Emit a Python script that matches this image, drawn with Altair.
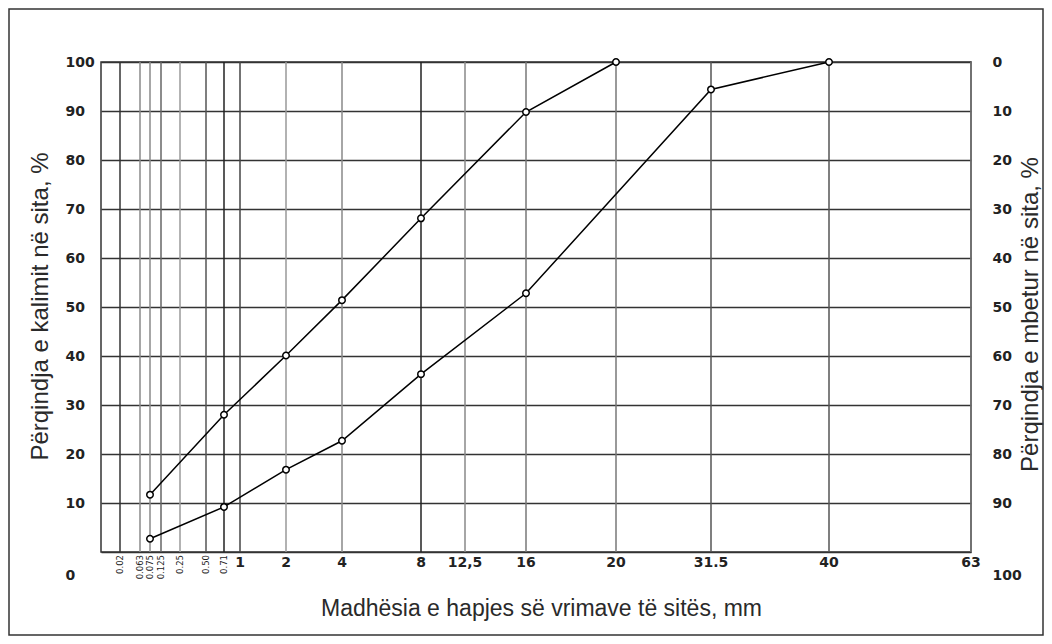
import altair as alt
import pandas as pd

# ---- data ----
sieve_sizes = [0.02, 0.063, 0.075, 0.125, 0.25, 0.5, 0.71, 1, 2, 4, 8, 12.5, 16, 20, 31.5, 40, 63]
grid_shade = ["#333333", "#8a8a8a", "#8a8a8a", "#666666", "#9a9a9a", "#555555", "#222222", "#444444",
              "#999999", "#888888", "#222222", "#888888", "#777777", "#777777", "#555555", "#555555", "#777777"]

small_vals = [0.02, 0.063, 0.075, 0.125, 0.25, 0.5, 0.71]
small_labels = ["0.02", "0.063", "0.075", "0.125", "0.25", "0.50", "0.71"]
big_vals = [1, 2, 4, 8, 12.5, 16, 20, 31.5, 40, 63]
big_labels = ["1", "2", "4", "8", "12,5", "16", "20", "31.5", "40", "63"]

curve_a_size = [0.075, 0.71, 2, 4, 8, 16, 20]
curve_a_pass = [11.7, 28.0, 40.1, 51.4, 68.1, 89.8, 100]
curve_b_size = [0.075, 0.71, 2, 4, 8, 16, 31.5, 40]
curve_b_pass = [2.7, 9.2, 16.8, 22.7, 36.3, 52.8, 94.4, 100]

left_ticks = list(range(0, 101, 10))
right_ticks = list(range(0, 101, 10))

# ---- layout ----
W, H = 870, 490
# non-uniform sieve axis: piecewise-linear scale
x_domain = [0] + sieve_sizes
x_range = [0, 19, 39, 49, 60, 79, 105, 123, 139, 185, 241, 320, 364, 425, 515, 610, 728, 870]

curves = pd.DataFrame({
    "size": curve_a_size + curve_b_size,
    "pass": curve_a_pass + curve_b_pass,
    "curve": ["A"] * len(curve_a_size) + ["B"] * len(curve_b_size),
})
grid_df = pd.DataFrame({"size": sieve_sizes, "shade": grid_shade})
small_df = pd.DataFrame({"size": small_vals, "label": small_labels})
big_df = pd.DataFrame({"size": big_vals, "label": big_labels})
right_df = pd.DataFrame({"ret": right_ticks})
frame_df = pd.DataFrame({"k": [0]})

LABEL_COLOR = "#222222"
TITLE_COLOR = "#2a2a2a"

xscale = alt.Scale(domain=x_domain, range=x_range, nice=False, zero=False)
x_axis = alt.Axis(labels=False, ticks=False, grid=False, domain=False,
                  title="Madhësia e hapjes së vrimave të sitës, mm",
                  titleFont="Liberation Sans", titleFontSize=23, titleFontWeight="normal",
                  titleColor=TITLE_COLOR, titleX=440, titleY=56, titleAlign="center",
                  titleBaseline="middle")
x_enc = alt.X("size:Q", scale=xscale, axis=x_axis)

yscale = alt.Scale(domain=[0, 100], nice=False, zero=False)
left_axis = alt.Axis(values=left_ticks, grid=True, gridColor="#333333", gridWidth=1.4,
                     ticks=False, tickSize=0, domain=False, labelAlign="left", labelPadding=36,
                     labelFont="DejaVu Sans", labelFontSize=14, labelFontWeight="bold",
                     labelColor=LABEL_COLOR,
                     labelFlush=False, labelOverlap=False,
                     labelOffset={"condition": {"test": "datum.value == 0", "value": 23}, "value": 0},
                     title="Përqindja e kalimit në sita, %",
                     titleFont="Liberation Sans", titleFontSize=24, titleFontWeight="normal",
                     titleColor=TITLE_COLOR, titleAngle=270, titleX=-61, titleY=244,
                     titleAlign="center", titleBaseline="middle")
y_enc = alt.Y("pass:Q", scale=yscale, axis=left_axis)

grid_rules = alt.Chart(grid_df).mark_rule(strokeWidth=1.5).encode(
    x=x_enc,
    y=alt.value(0),
    y2=alt.value(H),
    color=alt.Color("shade:N", scale=None),
)

lines = alt.Chart(curves).mark_line(color="black", strokeWidth=1.5).encode(
    x=x_enc,
    y=y_enc,
    detail="curve:N",
)
points = alt.Chart(curves).mark_point(shape="circle", filled=True, fill="white", stroke="black",
                                      strokeWidth=1.5, size=42, opacity=1).encode(
    x=x_enc,
    y=y_enc,
)

small_text = alt.Chart(small_df).mark_text(angle=270, align="right", baseline="middle",
                                           font="DejaVu Sans", fontSize=8.5, color="#222222").encode(
    x=x_enc, y=alt.value(H + 3), text="label:N")
big_text = alt.Chart(big_df).mark_text(align="center", baseline="middle",
                                       font="DejaVu Sans", fontSize=14, fontWeight="bold",
                                       color=LABEL_COLOR).encode(
    x=x_enc, y=alt.value(H + 11), text="label:N")

frame = alt.Chart(frame_df).mark_rect(fill=None, stroke="#333333", strokeWidth=1.5).encode(
    x=alt.value(-92), x2=alt.value(942), y=alt.value(-53), y2=alt.value(573))

main = alt.layer(grid_rules, lines, points, small_text, big_text, frame)

right_axis_layer = alt.Chart(right_df).mark_point(opacity=0).encode(
    y=alt.Y("ret:Q", scale=alt.Scale(domain=[0, 100], reverse=True, nice=False, zero=False),
            axis=alt.Axis(orient="right", values=right_ticks, grid=False, ticks=False, tickSize=0,
                          domain=False, labelAlign="left", labelPadding=21,
                          labelFont="DejaVu Sans", labelFontSize=14, labelFontWeight="bold",
                          labelColor=LABEL_COLOR,
                          labelFlush=False, labelOverlap=False,
                          labelOffset={"condition": {"test": "datum.value == 100", "value": 23}, "value": 0},
                          title="Përqindja e mbetur në sita, %",
                          titleFont="Liberation Sans", titleFontSize=24, titleFontWeight="normal",
                          titleColor=TITLE_COLOR, titleAngle=270, titleX=59, titleY=252,
                          titleAlign="center", titleBaseline="middle")),
)

chart = alt.layer(main, right_axis_layer).resolve_scale(y="independent").properties(
    width=W, height=H,
    autosize=alt.AutoSizeParams(type="none"),
    padding={"left": 93, "top": 54, "right": 73, "bottom": 84},
    background="white",
).configure_view(stroke="#333333", strokeWidth=1.5)

chart.save("out.html", embed_options={"renderer": "svg", "actions": False})
